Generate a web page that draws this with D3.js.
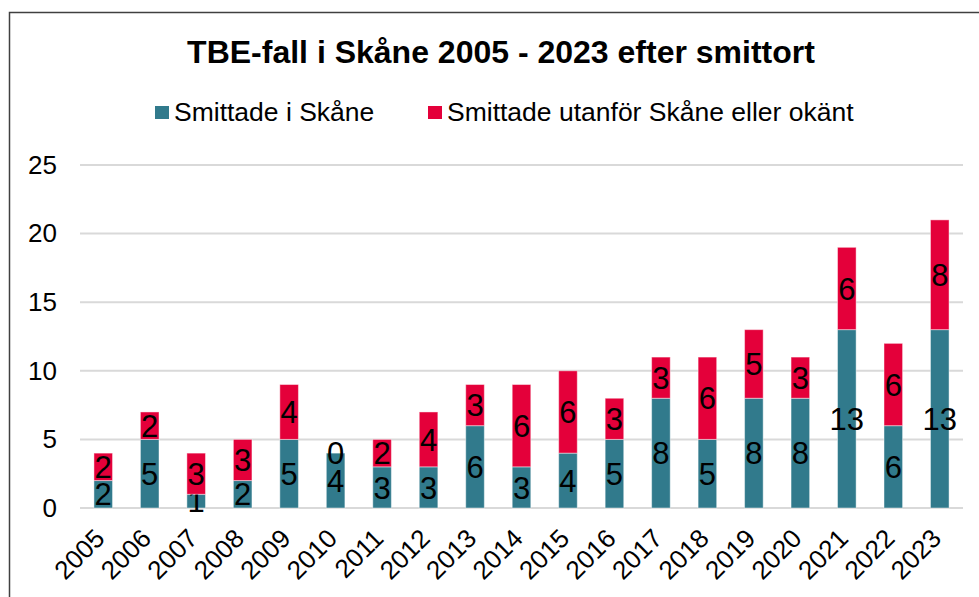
<!DOCTYPE html>
<html>
<head>
  <meta charset="UTF-8">
  <title>TBE-fall i Skåne</title>
  <style>
    body { margin: 0; background: #fff; font-family: "Liberation Sans", Arial, sans-serif; }
    svg { display: block; }
  </style>
</head>
<body>
  <div id="chart"></div>
  <script src="https://cdn.jsdelivr.net/npm/d3@7"></script>
  <script>
    // data
    var years = ["2005", "2006", "2007", "2008", "2009", "2010", "2011", "2012", "2013", "2014",
      "2015", "2016", "2017", "2018", "2019", "2020", "2021", "2022", "2023"];
    var inSkane = [2, 5, 1, 2, 5, 4, 3, 3, 6, 3, 4, 5, 8, 5, 8, 8, 13, 6, 13];
    var outside = [2, 2, 3, 3, 4, 0, 2, 4, 3, 6, 6, 3, 3, 6, 5, 3, 6, 6, 8];
    var yTicks = [0, 5, 10, 15, 20, 25];
    var seriesNames = ["Smittade i Skåne", "Smittade utanför Skåne eller okänt"];
    var colors = ["#317a8c", "#e4003a"];

    var width = 979, height = 597;
    var font = '"Liberation Sans", Arial, sans-serif';

    var svg = d3.select('#chart')
      .append('svg')
      .attr('width', width)
      .attr('height', height);

    // frame (runs off the right and bottom edge, like the reference)
    svg.append('rect')
      .attr('x', 9.5).attr('y', 12.5)
      .attr('width', 1000).attr('height', 700)
      .attr('fill', 'none')
      .attr('stroke', '#404040')
      .attr('stroke-width', 1.5);

    svg.append('text')
      .attr('x', 501).attr('y', 63)
      .attr('text-anchor', 'middle')
      .attr('font-weight', 'bold')
      .attr('font-size', 32)
      .text('TBE-fall i Skåne 2005 - 2023 efter smittort');

    var x = d3.scaleBand()
      .domain(years)
      .range([80, 963])
      .paddingInner(0.6)
      .paddingOuter(0.3);

    var y = d3.scaleLinear()
      .domain([0, 25])
      .range([508, 165]);

    // gridlines
    svg.append('g')
      .selectAll('line')
      .data(yTicks)
      .enter()
      .append('line')
      .attr('x1', 80).attr('x2', 963)
      .attr('y1', d => y(d)).attr('y2', d => y(d))
      .attr('stroke', '#d9d9d9')
      .attr('stroke-width', 2);

    // y axis labels
    var yAxis = svg.append('g')
      .attr('transform', 'translate(57,0)')
      .call(d3.axisLeft(y).tickValues(yTicks).tickSize(0).tickPadding(0));
    yAxis.select('.domain').remove();
    yAxis.selectAll('text')
      .attr('font-size', 26)
      .attr('font-family', font)
      .attr('fill', '#000');

    // x axis labels, rotated
    var xAxis = svg.append('g')
      .attr('transform', 'translate(0,508)')
      .call(d3.axisBottom(x).tickSize(0).tickPadding(0));
    xAxis.select('.domain').remove();
    xAxis.selectAll('text')
      .attr('font-size', 26)
      .attr('font-family', font)
      .attr('fill', '#000')
      .attr('text-anchor', 'end')
      .attr('y', 0)
      .attr('dy', null)
      .attr('transform', 'translate(3,32) rotate(-45)');

    var stacked = years.map((yr, i) => ({ year: yr, a: inSkane[i], b: outside[i] }));
    var series = d3.stack().keys(['a', 'b'])(stacked);

    var bars = svg.append('g')
      .selectAll('g')
      .data(series)
      .enter()
      .append('g')
      .attr('fill', (d, i) => colors[i]);

    bars.selectAll('rect')
      .data(d => d)
      .enter()
      .append('rect')
      .attr('x', d => x(d.data.year))
      .attr('width', x.bandwidth())
      .attr('y', d => y(d[1]))
      .attr('height', d => y(d[0]) - y(d[1]))
      .attr('stroke', 'rgba(255,255,255,0.45)')
      .attr('stroke-width', 1);

    // value labels, centred in each segment
    bars.selectAll('text')
      .data(d => d.map(p => ({ p: p, v: p[1] - p[0] })))
      .enter()
      .append('text')
      .attr('x', d => x(d.p.data.year) + x.bandwidth() / 2)
      .attr('y', d => y((d.p[0] + d.p[1]) / 2))
      .attr('dy', '0.36em')
      .attr('text-anchor', 'middle')
      .attr('font-size', 31)
      .attr('fill', '#000')
      .text(d => d.v);

    // legend
    var legendX = [155, 428];
    var legend = svg.append('g')
      .selectAll('g')
      .data(seriesNames)
      .enter()
      .append('g')
      .attr('transform', (d, i) => 'translate(' + legendX[i] + ',0)');
    legend.append('rect')
      .attr('x', 0).attr('y', 106)
      .attr('width', 14).attr('height', 13)
      .attr('fill', (d, i) => colors[i]);
    legend.append('text')
      .attr('x', 19).attr('y', 121)
      .attr('font-size', 26.5)
      .text(d => d);
  </script>
</body>
</html>
